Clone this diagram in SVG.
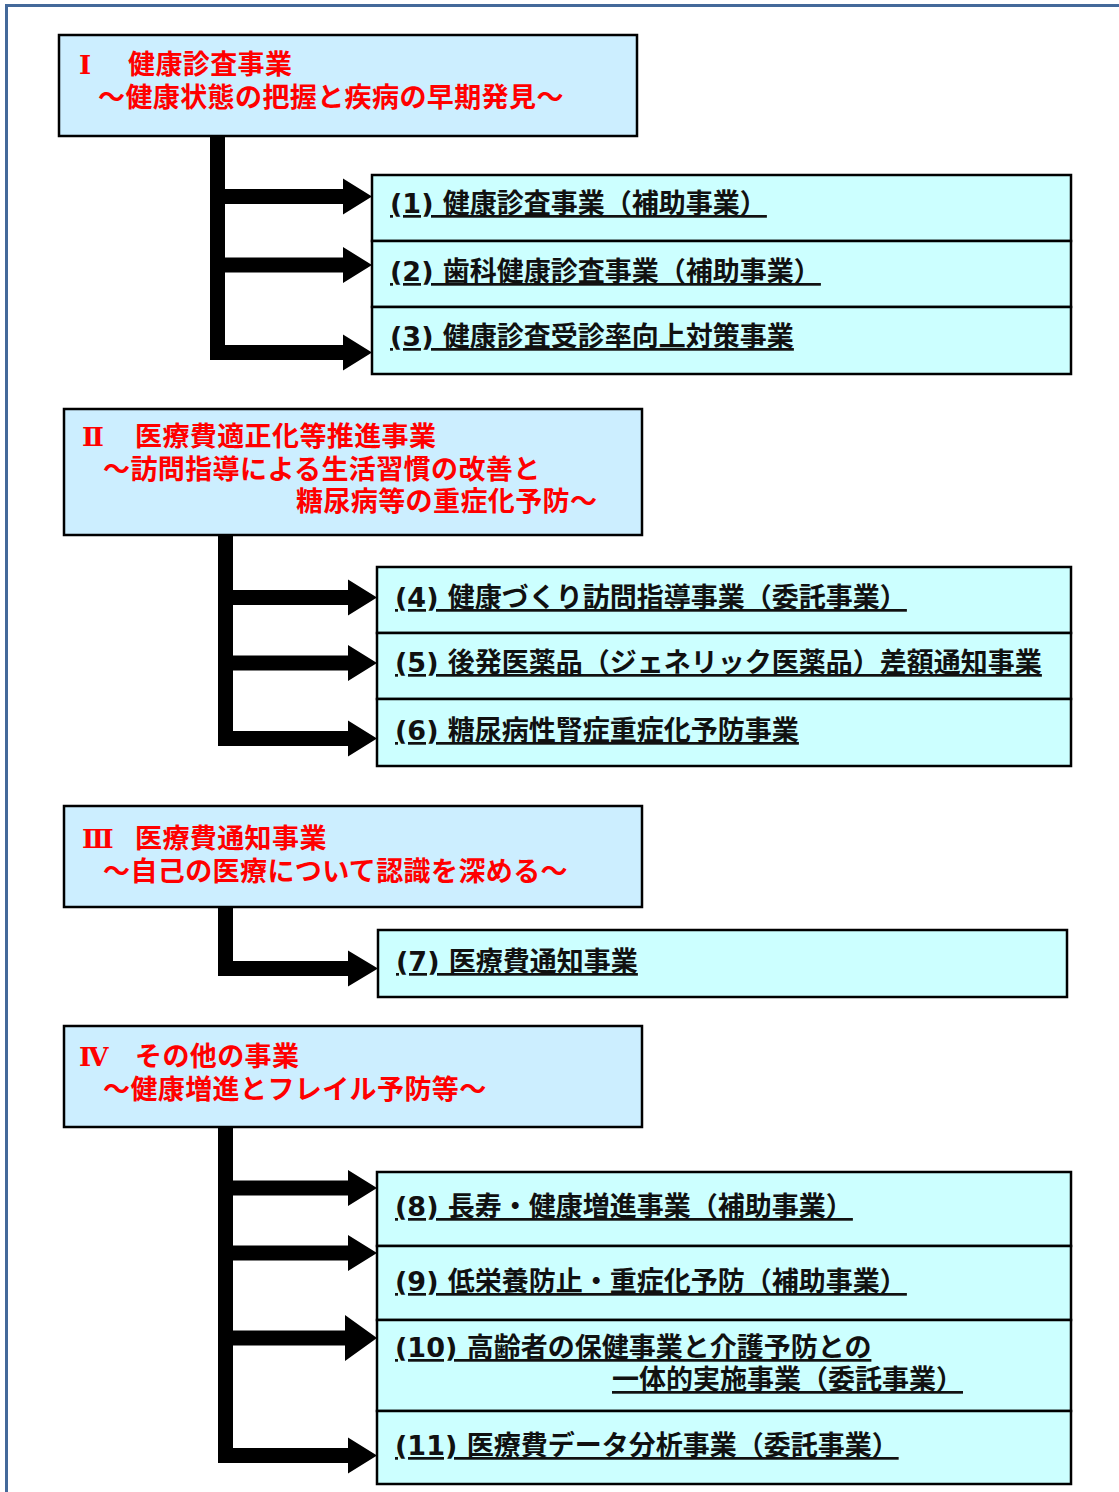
<svg xmlns="http://www.w3.org/2000/svg" width="1119" height="1492" viewBox="0 0 1119 1492">
<style>
.frame{fill:#ffffff;stroke:#44699a;stroke-width:3}
.hdr{fill:#cceeff;stroke:#000;stroke-width:2.5}
.item{fill:#ccffff;stroke:#000;stroke-width:2.5}
.ht{font-family:"Noto Sans CJK JP","Noto Sans CJK SC",sans-serif;font-weight:bold;font-size:27px;fill:#ff0000;letter-spacing:0.4px}
.rn{font-family:"DejaVu Serif","Liberation Serif","Noto Sans CJK JP",serif;font-weight:bold;font-size:26px;letter-spacing:0}
.it{font-family:"DejaVu Sans","Noto Sans CJK JP",sans-serif;font-weight:bold;font-size:27px;fill:#111111;text-decoration:underline;text-decoration-thickness:2.5px}
.conn{fill:#000}
</style>
<rect class="frame" x="6.5" y="5.5" width="1200" height="1600"/>

<g id="header-1">
<rect class="hdr" x="59" y="35" width="578" height="101"/>
<text class="ht"><tspan class="rn" x="79" y="74">Ⅰ</tspan><tspan x="128" y="74">健康診査事業</tspan><tspan x="98" y="107">～健康状態の把握と疾病の早期発見～</tspan></text>
</g>
<g id="header-2">
<rect class="hdr" x="64" y="409" width="578" height="126"/>
<text class="ht"><tspan class="rn" x="82" y="446">Ⅱ</tspan><tspan x="135" y="446">医療費適正化等推進事業</tspan><tspan x="103" y="479">～訪問指導による生活習慣の改善と</tspan><tspan x="296" y="511">糖尿病等の重症化予防～</tspan></text>
</g>
<g id="header-3">
<rect class="hdr" x="64" y="806" width="578" height="101"/>
<text class="ht"><tspan class="rn" x="82" y="848">Ⅲ</tspan><tspan x="135" y="848">医療費通知事業</tspan><tspan x="103" y="881">～自己の医療について認識を深める～</tspan></text>
</g>
<g id="header-4">
<rect class="hdr" x="64" y="1026" width="578" height="101"/>
<text class="ht"><tspan class="rn" x="79" y="1066">Ⅳ</tspan><tspan x="135" y="1066">その他の事業</tspan><tspan x="103" y="1099">～健康増進とフレイル予防等～</tspan></text>
</g>

<g id="connectors">
<rect class="conn" x="210" y="135" width="15" height="225"/>
<polygon class="conn" points="210,189 343,189 343,178.5 372,196.5 343,214.5 343,204 210,204"/>
<polygon class="conn" points="210,257.5 343,257.5 343,247 372,265 343,283 343,272.5 210,272.5"/>
<polygon class="conn" points="210,345 343,345 343,334.5 372,352.5 343,370.5 343,360 210,360"/>

<rect class="conn" x="218" y="534" width="15" height="212"/>
<polygon class="conn" points="218,590 348,590 348,579.5 377,597.5 348,615.5 348,605 218,605"/>
<polygon class="conn" points="218,655.5 348,655.5 348,645 377,663 348,681 348,670.5 218,670.5"/>
<polygon class="conn" points="218,731 348,731 348,720.5 377,738.5 348,756.5 348,746 218,746"/>

<rect class="conn" x="218" y="906" width="15" height="70"/>
<polygon class="conn" points="218,961 348,961 348,950.5 378,968.5 348,986.5 348,976 218,976"/>

<rect class="conn" x="218" y="1126" width="15" height="337"/>
<polygon class="conn" points="218,1180.5 348,1180.5 348,1170 377,1188 348,1206 348,1195.5 218,1195.5"/>
<polygon class="conn" points="218,1245.5 348,1245.5 348,1235 377,1253 348,1271 348,1260.5 218,1260.5"/>
<polygon class="conn" points="218,1330.5 345,1330.5 345,1315 377,1338 345,1361 345,1345.5 218,1345.5"/>
<polygon class="conn" points="218,1448 348,1448 348,1437.5 377,1455.5 348,1473.5 348,1463 218,1463"/>
</g>

<g id="item-1"><rect class="item" x="372" y="175" width="699" height="66"/><text class="it" x="390" y="213">(1) 健康診査事業（補助事業）</text></g>
<g id="item-2"><rect class="item" x="372" y="241" width="699" height="66"/><text class="it" x="390" y="281">(2) 歯科健康診査事業（補助事業）</text></g>
<g id="item-3"><rect class="item" x="372" y="307" width="699" height="67"/><text class="it" x="390" y="346">(3) 健康診査受診率向上対策事業</text></g>

<g id="item-4"><rect class="item" x="377" y="567" width="694" height="66"/><text class="it" x="395" y="607">(4) 健康づくり訪問指導事業（委託事業）</text></g>
<g id="item-5"><rect class="item" x="377" y="633" width="694" height="66"/><text class="it" x="395" y="672">(5) 後発医薬品（ジェネリック医薬品）差額通知事業</text></g>
<g id="item-6"><rect class="item" x="377" y="699" width="694" height="67"/><text class="it" x="395" y="740">(6) 糖尿病性腎症重症化予防事業</text></g>

<g id="item-7"><rect class="item" x="378" y="930" width="689" height="67"/><text class="it" x="396" y="971">(7) 医療費通知事業</text></g>

<g id="item-8"><rect class="item" x="377" y="1172" width="694" height="74"/><text class="it" x="395" y="1216">(8) 長寿・健康増進事業（補助事業）</text></g>
<g id="item-9"><rect class="item" x="377" y="1246" width="694" height="74"/><text class="it" x="395" y="1291">(9) 低栄養防止・重症化予防（補助事業）</text></g>
<g id="item-10"><rect class="item" x="377" y="1320" width="694" height="91"/><text class="it"><tspan x="395" y="1357">(10) 高齢者の保健事業と介護予防との</tspan><tspan x="612" y="1389">一体的実施事業（委託事業）</tspan></text></g>
<g id="item-11"><rect class="item" x="377" y="1411" width="694" height="73"/><text class="it" x="395" y="1455">(11) 医療費データ分析事業（委託事業）</text></g>
</svg>
